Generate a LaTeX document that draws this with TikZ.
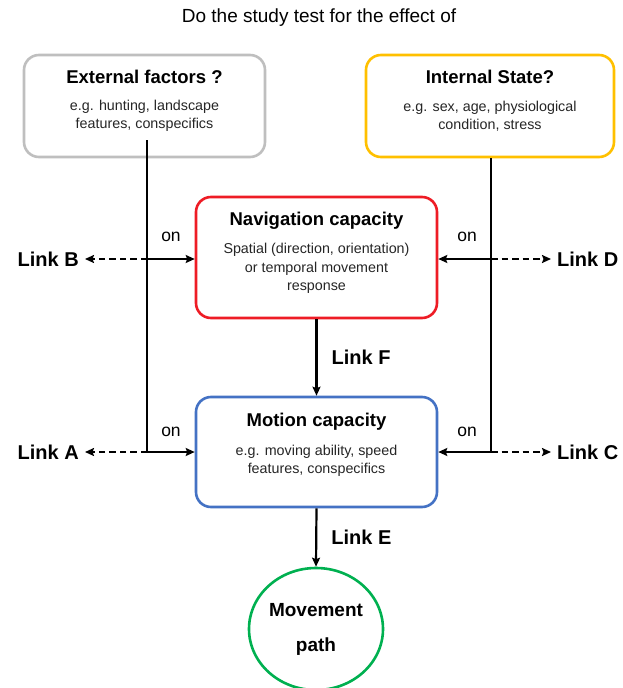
\documentclass[tikz,border=0pt]{standalone}
\usepackage{fontspec}
\setmainfont{Liberation Sans}
\usetikzlibrary{arrows.meta,shapes.geometric}

\definecolor{extgray}{HTML}{BFBFBF}
\definecolor{intyellow}{HTML}{FFC000}
\definecolor{navred}{HTML}{EE1C25}
\definecolor{motblue}{HTML}{4472C4}
\definecolor{pathgreen}{HTML}{00B050}
\definecolor{subtext}{HTML}{262626}

\tikzset{
  box/.style={draw=#1, line width=2.6pt, rounded corners=15pt, fill=white},
  head/.style={font=\bfseries\fontsize{18.5}{22}\selectfont, inner sep=0pt},
  sub/.style={font=\fontsize{14.3}{18.5}\selectfont, text=subtext, align=center, inner sep=0pt},
  linklabel/.style={font=\bfseries\fontsize{20}{24}\selectfont, inner xsep=6pt, inner ysep=0pt},
  onlabel/.style={font=\fontsize{17.5}{20}\selectfont, inner sep=0pt},
  wire/.style={line width=2.2pt, draw=black},
  arr/.style={wire, -{Stealth[length=9pt,width=8pt,inset=1.5pt]}},
  dasharr/.style={wire, dash pattern=on 6.5pt off 4pt, -{Stealth[length=9pt,width=8pt,inset=1.5pt]}},
}

\begin{document}
\begin{tikzpicture}[x=1pt, y=-1pt]
\useasboundingbox (0,0) rectangle (622,688);

% heading
\node[font=\fontsize{19}{22}\selectfont, inner sep=0pt] (title) at (319,18) {Do the study test for the effect of};

% factor boxes
\node[box=extgray, minimum width=241, minimum height=102] (ext) at (144.5,106) {};
\node[head] (extT) at (144.5,77) {External factors ?};
\node[sub] (extS) at (144.5,116) {e.g. hunting, landscape\\features, conspecifics};

\node[box=intyellow, minimum width=248, minimum height=102] (int) at (490,106) {};
\node[head] (intT) at (490,77) {Internal State?};
\node[sub] (intS) at (490,116) {e.g. sex, age, physiological\\condition, stress};

% capacity boxes
\node[box=navred, minimum width=241, minimum height=121] (nav) at (316.5,257.5) {};
\node[head] (navT) at (316.5,221) {Navigation capacity};
\node[sub] (navS) at (316.5,268.5) {Spatial (direction, orientation)\\or temporal movement\\response};

\node[box=motblue, minimum width=241, minimum height=110] (mot) at (316.5,452) {};
\node[head] (motT) at (316.5,422) {Motion capacity};
\node[sub] (motS) at (316.5,461) {e.g. moving ability, speed\\features, conspecifics};

% outcome
\node[ellipse, draw=pathgreen, line width=2.6pt, minimum width=134, minimum height=122] (path) at (316,629) {};
\node[head, font=\bfseries\fontsize{19}{22}\selectfont] (pathT1) at (316,610) {Movement};
\node[head, font=\bfseries\fontsize{19}{22}\selectfont] (pathT2) at (316,647) {path};

% junction points on the two feeder lines
\coordinate (extOut) at (147,140);
\coordinate (jB) at (147,259);
\coordinate (jA) at (147,452);
\coordinate (jD) at (491,259);
\coordinate (jC) at (491,452);

% link labels
\node[linklabel, anchor=east] (linkB) at (85,259) {Link B};
\node[linklabel, anchor=east] (linkA) at (85,452) {Link A};
\node[linklabel, anchor=west] (linkD) at (551,259) {Link D};
\node[linklabel, anchor=west] (linkC) at (551,452) {Link C};

\node[onlabel] (onB) at (171,237) {on};
\node[onlabel] (onA) at (171,432) {on};
\node[onlabel] (onD) at (467,237) {on};
\node[onlabel] (onC) at (467,432) {on};

% external factors feeder
\draw[wire] (extOut) -- (jA);
\draw[arr] (jB) -- (nav.west |- jB);
\draw[arr] (jA) -- (mot.west |- jA);
\draw[dasharr] (jB) -- (linkB.east);
\draw[dasharr] (jA) -- (linkA.east);

% internal state feeder
\draw[wire] (int.south -| jD) -- (jC);
\draw[arr] (jD) -- (nav.east |- jD);
\draw[arr] (jC) -- (mot.east |- jC);
\draw[dasharr] (jD) -- (linkD.west);
\draw[dasharr] (jC) -- (linkC.west);

% vertical chain
\draw[arr] (nav.south) -- (mot.north) node[midway, right=14pt, linklabel, inner xsep=0pt] (linkF) {Link F};
\draw[arr] (mot.south) -- (path.north) node[midway, right=14pt, linklabel, inner xsep=0pt] (linkE) {Link E};
\end{tikzpicture}
\end{document}
